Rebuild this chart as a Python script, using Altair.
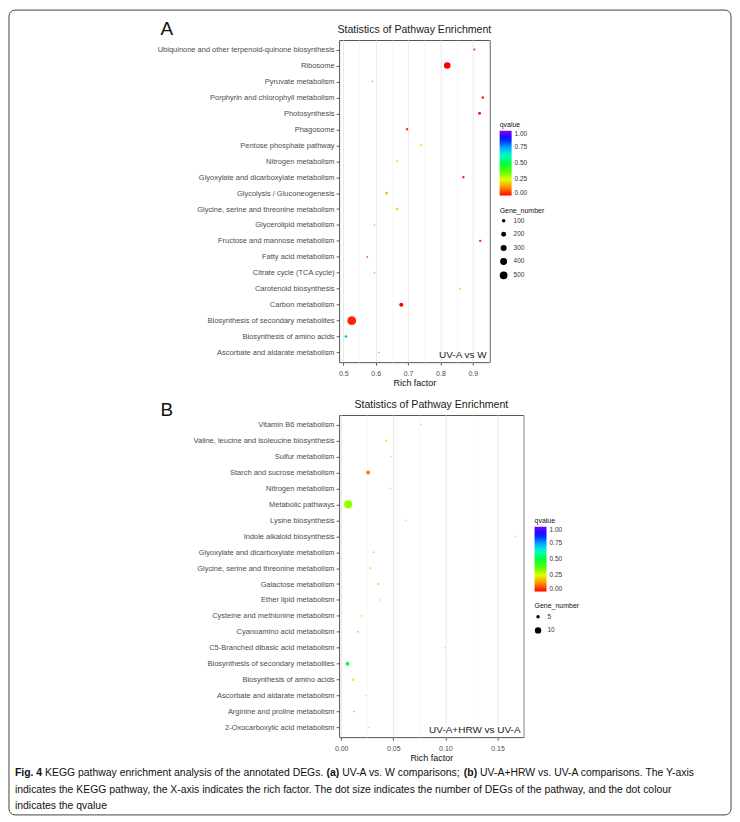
import altair as alt
import pandas as pd

# ---------------- Panel A data (UV-A vs W) ----------------
a_pathways = [
    "Ubiquinone and other terpenoid-quinone biosynthesis", "Ribosome", "Pyruvate metabolism",
    "Porphyrin and chlorophyll metabolism", "Photosynthesis", "Phagosome", "Pentose phosphate pathway",
    "Nitrogen metabolism", "Glyoxylate and dicarboxylate metabolism", "Glycolysis / Gluconeogenesis",
    "Glycine, serine and threonine metabolism", "Glycerolipid metabolism", "Fructose and mannose metabolism",
    "Fatty acid metabolism", "Citrate cycle (TCA cycle)", "Carotenoid biosynthesis", "Carbon metabolism",
    "Biosynthesis of secondary metabolites", "Biosynthesis of amino acids", "Ascorbate and aldarate metabolism",
]
a_rich = [0.905, 0.821, 0.590, 0.931, 0.921, 0.697, 0.740, 0.666, 0.871, 0.634,
          0.666, 0.596, 0.923, 0.574, 0.596, 0.861, 0.679, 0.526, 0.508, 0.610]
a_qvalue = [0.03, 0.0, 0.63, 0.02, 0.01, 0.04, 0.22, 0.30, 0.02, 0.17,
            0.20, 0.40, 0.03, 0.08, 0.40, 0.30, 0.0, 0.03, 0.70, 0.55]
a_genes = [25, 360, 15, 45, 65, 40, 30, 20, 40, 50,
           40, 15, 35, 20, 15, 20, 130, 650, 60, 15]
a_size_legend = [100, 200, 300, 400, 500]

# ---------------- Panel B data (UV-A+HRW vs UV-A) ----------------
b_pathways = [
    "Vitamin B6 metabolism", "Valine, leucine and isoleucine biosynthesis", "Sulfur metabolism",
    "Starch and sucrose metabolism", "Nitrogen metabolism", "Metabolic pathways", "Lysine biosynthesis",
    "Indole alkaloid biosynthesis", "Glyoxylate and dicarboxylate metabolism",
    "Glycine, serine and threonine metabolism", "Galactose metabolism", "Ether lipid metabolism",
    "Cysteine and methionine metabolism", "Cyanoamino acid metabolism", "C5-Branched dibasic acid metabolism",
    "Biosynthesis of secondary metabolites", "Biosynthesis of amino acids", "Ascorbate and aldarate metabolism",
    "Arginine and proline metabolism", "2-Oxocarboxylic acid metabolism",
]
b_rich = [0.0765, 0.043, 0.048, 0.0258, 0.0468, 0.0067, 0.062, 0.167, 0.031, 0.028,
          0.0357, 0.0376, 0.0194, 0.016, 0.0997, 0.006, 0.0112, 0.0236, 0.0124, 0.0265]
b_qvalue = [0.21, 0.21, 0.21, 0.11, 0.21, 0.32, 0.22, 0.22, 0.21, 0.21,
            0.21, 0.22, 0.26, 0.45, 0.22, 0.48, 0.28, 0.22, 0.60, 0.21]
b_genes = [1, 2, 1, 6, 1, 13, 1, 1, 2, 2, 2, 1, 2, 1, 1, 6, 3, 1, 1, 1]
b_size_legend = [5, 10]

q_ticks = [0.0, 0.25, 0.5, 0.75, 1.0]
rainbow = ["#FF0000", "#FF8F00", "#DFFF00", "#50FF00", "#00FF40",
           "#00FFCF", "#009FFF", "#0010FF", "#8000FF"]
rainbow_dom = [i / 8 for i in range(9)]

# caption: each line is a list of (text, bold?) segments
caption_lines = [
    [("Fig. 4", True), ("KEGG pathway enrichment analysis of the annotated DEGs.", False), ("(a)", True),
     ("UV-A vs. W comparisons;", False), ("(b)", True),
     ("UV-A+HRW vs. UV-A comparisons. The Y-axis", False)],
    [("indicates the KEGG pathway, the X-axis indicates the rich factor. The dot size indicates the number of DEGs of the pathway, and the dot colour", False)],
    [("indicates the qvalue", False)],
]

FONT = "Liberation Sans"
PLOT_H = 323
SPACING = 53
CAP_SIZE = 10.45

# Arial / Liberation Sans advance widths (per 1000 em)
_W = {" ": 278, "(": 333, ")": 333, "+": 584, ",": 278, "-": 333, ".": 278, "/": 278, ";": 278,
      "A": 667, "B": 667, "C": 722, "D": 722, "E": 667, "F": 611, "G": 778, "H": 722, "I": 278,
      "K": 667, "L": 556, "M": 833, "N": 722, "O": 778, "P": 667, "R": 722, "S": 667, "T": 611,
      "U": 722, "V": 667, "W": 944, "X": 667, "Y": 667,
      "a": 556, "b": 556, "c": 500, "d": 556, "e": 556, "f": 278, "g": 556, "h": 556, "i": 222,
      "j": 222, "k": 500, "l": 222, "m": 833, "n": 556, "o": 556, "p": 556, "q": 556, "r": 333,
      "s": 500, "t": 278, "u": 556, "v": 500, "w": 722, "x": 500, "y": 500, "z": 500}
_WB = {"(": 333, ")": 333, "a": 556, "b": 611, "F": 611, "i": 278, "g": 611, ".": 278, " ": 278,
       "4": 556}


def text_width(s, size, bold):
    table = _WB if bold else _W
    return sum(table.get(ch, 556) for ch in s) * size / 1000.0


def padded(vals):
    lo, hi = min(vals), max(vals)
    r = hi - lo
    return [lo - 0.05 * r, hi + 0.05 * r]


def panel(pathways, rich, qv, genes, width, major, minor, fmt, mult,
          size_scale, size_vals, legx, legy_color, legy_size, note):
    df = pd.DataFrame({"Pathway": pathways, "Rich factor": rich,
                       "qvalue": qv, "Gene_number": genes})
    dom = padded(rich)
    allticks = sorted([v for v in major + minor if dom[0] <= v <= dom[1]])
    is_major = f"abs(datum.value*{mult} - round(datum.value*{mult})) < 0.001"
    xaxis = alt.Axis(
        values=allticks,
        labelExpr=f"{is_major} ? format(datum.value, '{fmt}') : ''",
        tickOpacity={"condition": {"test": is_major, "value": 1}, "value": 0},
        gridColor={"condition": {"test": is_major, "value": "#EBEBEB"}, "value": "#F5F5F5"},
        gridWidth={"condition": {"test": is_major, "value": 1}, "value": 0.6},
        title="Rich factor", titleFontSize=9, titleFontWeight="normal", titleColor="#111",
        titleFont=FONT, titlePadding=2,
        labelFontSize=7, labelColor="#4D4D4D", labelFont=FONT, labelPadding=4,
        tickSize=3, tickColor="#333", tickWidth=0.8, domain=False, labelFlush=False,
    )
    yaxis = alt.Axis(
        title=None, labelFontSize=7.5, labelColor="#4D4D4D", labelFont=FONT, labelPadding=2,
        tickSize=3, tickColor="#333", tickWidth=0.8, domain=False,
        gridColor="#EBEBEB", gridWidth=1, labelLimit=400,
    )
    pts = alt.Chart(df).mark_circle(opacity=1).encode(
        x=alt.X("Rich factor:Q", scale=alt.Scale(domain=dom, nice=False, zero=False), axis=xaxis),
        y=alt.Y("Pathway:N", sort=pathways, scale=alt.Scale(padding=0.6), axis=yaxis),
        color=alt.Color(
            "qvalue:Q",
            scale=alt.Scale(domain=rainbow_dom, range=rainbow, interpolate="rgb"),
            legend=alt.Legend(
                title="qvalue", orient="none", legendX=legx, legendY=legy_color,
                values=q_ticks, format=".2f", gradientLength=65, gradientThickness=12,
                titleFontSize=7, titleFontWeight="normal", titleColor="#111", titleFont=FONT,
                labelFontSize=6.5, labelColor="#333", labelFont=FONT, titlePadding=3,
                gradientStrokeWidth=0, labelOffset=3,
            ),
        ),
        size=alt.Size(
            "Gene_number:Q", scale=size_scale,
            legend=alt.Legend(
                title="Gene_number", orient="none", legendX=legx, legendY=legy_size,
                values=size_vals, symbolFillColor="black", symbolStrokeWidth=0,
                symbolType="circle", titleFontSize=7, titleFontWeight="normal", titleColor="#111",
                titleFont=FONT, labelFontSize=6.5, labelColor="#333", labelFont=FONT,
                titlePadding=4, rowPadding=6.5, labelOffset=6,
            ),
        ),
    )
    one = pd.DataFrame({"t": [note]})
    note_mark = alt.Chart(one).mark_text(
        align="right", baseline="alphabetic", fontSize=10, font=FONT, color="#222"
    ).encode(x=alt.value(width - 3), y=alt.value(PLOT_H - 4), text="t:N")
    return alt.layer(pts, note_mark).properties(
        width=width, height=PLOT_H,
        title=alt.TitleParams("Statistics of Pathway Enrichment", fontSize=10.6, fontWeight="normal",
                              color="#1a1a1a", font=FONT, anchor="middle", offset=4),
    )


A = panel(a_pathways, a_rich, a_qvalue, a_genes, 151,
          [0.5, 0.6, 0.7, 0.8, 0.9], [0.55, 0.65, 0.75, 0.85, 0.95], ".1f", 10,
          alt.Scale(domain=[0, max(a_genes)], range=[1, 78]), a_size_legend,
          161, 81, 167, "UV-A vs W")

B = panel(b_pathways, b_rich, b_qvalue, b_genes, 185,
          [0.0, 0.05, 0.10, 0.15], [0.025, 0.075, 0.125, 0.175], ".2f", 20,
          alt.Scale(type="pow", exponent=2, domain=[0, max(b_genes)], range=[2, 68]), b_size_legend,
          196, 102, 188, "UV-A+HRW vs UV-A")


# ---------------- caption, panel letters and frame (positioned from the bottom view) ----------------
def text_layer(s, x, y, size, weight="normal"):
    return alt.Chart(pd.DataFrame({"t": [s]})).mark_text(
        align="left", baseline="alphabetic", fontSize=size, fontWeight=weight, font=FONT, color="#111"
    ).encode(x=alt.value(x), y=alt.value(y), text="t:N")


frame = alt.Chart(pd.DataFrame({"k": [1]})).mark_rect(
    fillOpacity=0, stroke="#444", strokeWidth=1, cornerRadius=6
).encode(x=alt.value(-331), x2=alt.value(393), y=alt.value(-782), y2=alt.value(25))

layers = [frame, text_layer("A", -179, -757, 19), text_layer("B", -179, -375, 19)]
space_w = text_width(" ", CAP_SIZE, False)
for li, segs in enumerate(caption_lines):
    x = -325.0
    y = [-14, 3, 19][li]
    for s, b in segs:
        layers.append(text_layer(s, round(x, 1), y, CAP_SIZE, "bold" if b else "normal"))
        x += text_width(s, CAP_SIZE, b) + space_w

C = alt.layer(*layers).properties(width=10, height=10, view=alt.ViewBackground(strokeOpacity=0))

chart = alt.vconcat(A, B, C, spacing=SPACING, bounds="flush").resolve_scale(
    color="independent", size="independent", x="independent", y="independent"
).resolve_legend(color="independent", size="independent").properties(
    padding={"left": 8, "top": 8, "right": 8, "bottom": 7}, background="white"
).configure_view(stroke="#555", strokeWidth=1)

chart.save("out.html", embed_options={"renderer": "svg", "actions": False})
